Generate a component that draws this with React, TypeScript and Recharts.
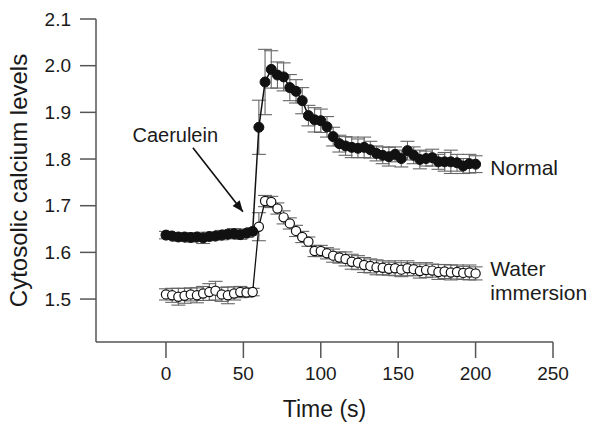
import {
  LineChart,
  Line,
  XAxis,
  YAxis,
  ErrorBar,
  ReferenceLine,
  ReferenceDot,
} from 'recharts';

// time points (s)
const times = [
  0, 4, 8, 12, 16, 20, 24, 28, 32, 36, 40, 44, 48, 52, 56,
  60, 64, 68, 72, 76, 80, 84, 88, 92, 96, 100, 104, 108, 112, 116, 120,
  124, 128, 132, 136, 140, 144, 148, 152, 156, 160, 164, 168, 172, 176,
  180, 184, 188, 192, 196, 200,
];

const normal = [
  1.637, 1.635, 1.633, 1.633, 1.632, 1.633, 1.631, 1.634, 1.635, 1.637, 1.639, 1.64, 1.638, 1.641, 1.645,
  1.868, 1.965, 1.992, 1.98, 1.976, 1.953, 1.945, 1.925, 1.893, 1.884, 1.882, 1.869, 1.848, 1.833, 1.828, 1.825,
  1.823, 1.825, 1.82, 1.812, 1.808, 1.805, 1.81, 1.801, 1.818, 1.808, 1.799, 1.801, 1.803, 1.794,
  1.794, 1.794, 1.792, 1.785, 1.79, 1.789,
];

const normalErr = [
  0.008, 0.007, 0.009, 0.008, 0.01, 0.008, 0.012, 0.009, 0.008, 0.01, 0.009, 0.011, 0.01, 0.009, 0.008,
  0.058, 0.07, 0.04, 0.028, 0.03, 0.028, 0.025, 0.028, 0.022, 0.026, 0.025, 0.022, 0.02, 0.018, 0.02, 0.022,
  0.02, 0.022, 0.018, 0.016, 0.018, 0.02, 0.016, 0.018, 0.02, 0.018, 0.02, 0.016, 0.018, 0.016,
  0.02, 0.025, 0.018, 0.016, 0.02, 0.018,
];

const water = [
  1.51, 1.508, 1.505, 1.507, 1.51, 1.508, 1.512, 1.515, 1.518, 1.51, 1.508, 1.512, 1.515, 1.514, 1.515,
  1.655, 1.71, 1.708, 1.694, 1.675, 1.662, 1.646, 1.633, 1.623, 1.603, 1.603, 1.598, 1.593, 1.589, 1.586, 1.58,
  1.578, 1.573, 1.571, 1.568, 1.567, 1.565, 1.566, 1.563, 1.566, 1.564, 1.56, 1.562, 1.561, 1.558,
  1.559, 1.557, 1.558, 1.556, 1.557, 1.555,
];

const waterErr = [
  0.012, 0.015, 0.018, 0.016, 0.014, 0.016, 0.015, 0.018, 0.02, 0.015, 0.018, 0.014, 0.012, 0.01, 0.008,
  0.03, 0.012, 0.012, 0.012, 0.014, 0.012, 0.012, 0.012, 0.01, 0.012, 0.012, 0.012, 0.014, 0.012, 0.015, 0.016,
  0.015, 0.016, 0.015, 0.016, 0.015, 0.014, 0.016, 0.015, 0.016, 0.014, 0.015, 0.016, 0.014, 0.016,
  0.015, 0.016, 0.015, 0.014, 0.016, 0.014,
];

const xTicks = [0, 50, 100, 150, 200, 250];
const yTicks = [1.5, 1.6, 1.7, 1.8, 1.9, 2.0, 2.1];

// annotation anchors in data units
const arrowFrom = { x: 17.4, y: 1.824 };
const arrowTo = { x: 49.7, y: 1.687 };
const caeruleinAt = { x: 6, y: 1.851 };
const normalLabelAt = { x: 209.5, y: 1.783 };
const waterLabelAt = { x: 209.5, y: 1.541 };

const FONT = '"Liberation Sans", Arial, Helvetica, sans-serif';
const TEXT = '#1a1a1a';
const AXIS = '#555';

const data = times.map((t, i) => ({
  t,
  normal: normal[i],
  normalErr: normalErr[i],
  water: water[i],
  waterErr: waterErr[i],
}));

const ArrowHead = (props: any) => {
  const { cx, cy } = props;
  // direction of the arrow, in pixels (down-right)
  const ang = (Math.atan2(64, 50) * 180) / Math.PI;
  return (
    <polygon
      points={`${cx},${cy} ${cx - 11},${cy - 4.5} ${cx - 11},${cy + 4.5}`}
      fill="#111"
      transform={`rotate(${ang}, ${cx}, ${cy})`}
    />
  );
};

const TextMark = (lines: string[], anchor: 'start' | 'middle', size: number) => (props: any) => {
  const { cx, cy } = props;
  const lh = size * 1.15;
  const start = cy - ((lines.length - 1) * lh) / 2;
  return (
    <text
      x={cx}
      y={start}
      textAnchor={anchor}
      dominantBaseline="central"
      fontFamily={FONT}
      fontSize={size}
      fill={TEXT}
    >
      {lines.map((l, i) => (
        <tspan key={l} x={cx} dy={i === 0 ? 0 : lh}>
          {l}
        </tspan>
      ))}
    </text>
  );
};

export default function App() {
  return (
    <div style={{ position: 'absolute', left: 0, top: 0, background: '#fff' }}>
      <LineChart
        width={602}
        height={427}
        data={data}
        margin={{ top: 19, right: 49, left: 0, bottom: 0 }}
      >
        <XAxis
          dataKey="t"
          type="number"
          domain={[-45.2, 250]}
          ticks={xTicks}
          allowDataOverflow
          height={85}
          tickSize={16}
          tickMargin={9}
          stroke={AXIS}
          strokeWidth={1.5}
          tick={{ fontSize: 19, fill: TEXT, fontFamily: FONT }}
          label={{
            content: (p: any) => {
              const vb = p.viewBox;
              return (
                <text
                  x={vb.x + vb.width / 2}
                  y={417}
                  textAnchor="middle"
                  fontFamily={FONT}
                  fontSize={23}
                  fill={TEXT}
                >
                  Time (s)
                </text>
              );
            },
          }}
        />
        <YAxis
          type="number"
          domain={[1.408, 2.1]}
          ticks={yTicks}
          allowDataOverflow
          width={96}
          tickSize={16}
          tickMargin={9}
          stroke={AXIS}
          strokeWidth={1.5}
          tickFormatter={(v: number) => v.toFixed(1)}
          tick={{ fontSize: 19, fill: TEXT, fontFamily: FONT }}
          label={{
            content: (p: any) => {
              const vb = p.viewBox;
              const cy = vb.y + vb.height / 2;
              return (
                <text
                  x={27}
                  y={cy}
                  textAnchor="middle"
                  transform={`rotate(-90, 27, ${cy})`}
                  fontFamily={FONT}
                  fontSize={24}
                  fill={TEXT}
                >
                  Cytosolic calcium levels
                </text>
              );
            },
          }}
        />
        <Line
          dataKey="water"
          stroke="#111"
          strokeWidth={1.3}
          isAnimationActive={false}
          dot={{ r: 4.6, fill: '#fff', stroke: '#111', strokeWidth: 1.2 }}
          activeDot={false}
        >
          <ErrorBar
            dataKey="waterErr"
            width={7}
            stroke="#666"
            strokeWidth={1.1}
            isAnimationActive={false}
          />
        </Line>
        <Line
          dataKey="normal"
          stroke="#111"
          strokeWidth={1.5}
          isAnimationActive={false}
          dot={{ r: 5, fill: '#111', stroke: '#111', strokeWidth: 1 }}
          activeDot={false}
        >
          <ErrorBar
            dataKey="normalErr"
            width={7}
            stroke="#666"
            strokeWidth={1.1}
            isAnimationActive={false}
          />
        </Line>
        <ReferenceLine
          segment={[arrowFrom, arrowTo]}
          stroke="#111"
          strokeWidth={1.6}
        />
        <ReferenceDot x={arrowTo.x} y={arrowTo.y} r={1} shape={ArrowHead} />
        <ReferenceDot
          x={caeruleinAt.x}
          y={caeruleinAt.y}
          r={1}
          shape={TextMark(['Caerulein'], 'middle', 20)}
        />
        <ReferenceDot
          x={normalLabelAt.x}
          y={normalLabelAt.y}
          r={1}
          shape={TextMark(['Normal'], 'start', 21)}
        />
        <ReferenceDot
          x={waterLabelAt.x}
          y={waterLabelAt.y}
          r={1}
          shape={TextMark(['Water', 'immersion'], 'start', 21)}
        />
      </LineChart>
    </div>
  );
}
